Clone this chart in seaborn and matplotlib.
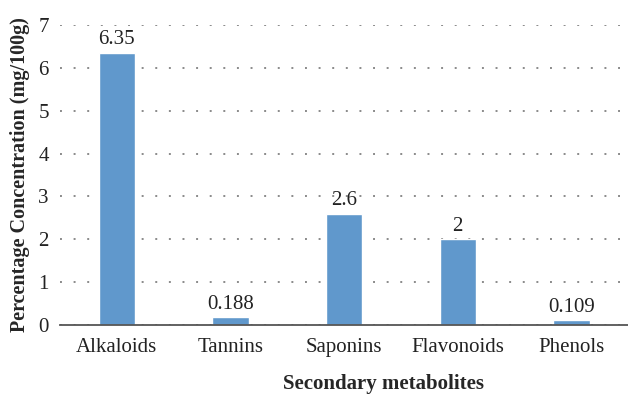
import matplotlib
matplotlib.use("Agg")
import matplotlib.pyplot as plt
import seaborn as sns
import pandas as pd

# datos
metabolitos = ["Alkaloids", "Tannins", "Saponins", "Flavonoids", "Phenols"]
concentracion = [6.35, 0.188, 2.6, 2.0, 0.109]
etiquetas = ["6.35", "0.188", "2.6", "2", "0.109"]
y_ticks = [0, 1, 2, 3, 4, 5, 6, 7]

COLOR_BARRA = "#6098CC"

sns.set_style("white")
plt.rcParams["font.family"] = ["Liberation Serif", "DejaVu Serif"]

df = pd.DataFrame({"metabolito": metabolitos, "valor": concentracion})

fig = plt.figure(figsize=(6.28, 3.95), dpi=100)
ax = fig.add_axes([0.0955, 0.177, 0.905, 0.76])

sns.barplot(data=df, x="metabolito", y="valor", color=COLOR_BARRA,
            width=0.32, saturation=1, ax=ax, zorder=3)

for p, txt in zip(ax.patches, etiquetas):
    ax.text(p.get_x() + p.get_width() / 2, p.get_height() + 0.08, txt,
            ha="center", va="bottom", fontsize=15, color="#222222")

ax.set_ylim(0, 7)
ax.set_yticks(y_ticks)
ax.yaxis.grid(True, linestyle=(0, (1, 6)), color="#8a8a8a", linewidth=1.4, zorder=0)
ax.set_axisbelow(True)

for s in ["top", "right", "left"]:
    ax.spines[s].set_visible(False)
ax.spines["bottom"].set_color("#555555")
ax.spines["bottom"].set_linewidth(1.3)
ax.spines["bottom"].set_zorder(4)

ax.tick_params(axis="both", length=0, labelsize=15, colors="#222222")
ax.tick_params(axis="x", pad=9)
ax.tick_params(axis="y", pad=8)

ax.set_xlabel("Secondary metabolites", fontsize=15, fontweight="bold")
ax.xaxis.set_label_coords(0.569, -0.162)
ax.set_ylabel("Percentage Concentration (mg/100g)", fontsize=14.5, fontweight="bold", labelpad=6)

fig.savefig("out.png", dpi=100)
